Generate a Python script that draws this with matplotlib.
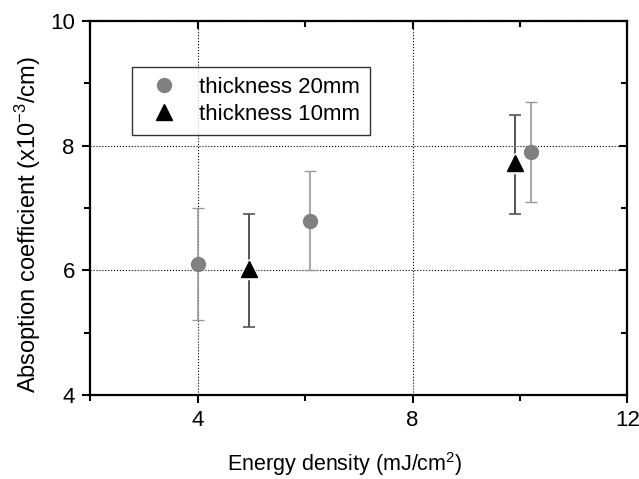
import numpy as np
import matplotlib.pyplot as plt
from matplotlib.ticker import MultipleLocator

plt.rcParams['font.family'] = ['Liberation Sans', 'DejaVu Sans']
plt.rcParams['mathtext.fontset'] = 'custom'
plt.rcParams['mathtext.rm'] = 'Liberation Sans'
plt.rcParams['mathtext.it'] = 'Liberation Sans'

# thickness 20mm (grey circles)
x20 = [4.0, 6.1, 10.2]
y20 = [6.1, 6.8, 7.9]
lo20 = [5.2, 6.0, 7.1]
hi20 = [7.0, 7.6, 8.7]

# thickness 10mm (black triangles)
x10 = [4.95, 9.9]
y10 = [6.02, 7.72]
lo10 = [5.1, 6.9]
hi10 = [6.9, 8.5]

fig = plt.figure(figsize=(6.39, 4.79), dpi=100)
ax = fig.add_axes([0.141, 0.175, 0.841, 0.781])

err20 = [np.array(y20) - np.array(lo20), np.array(hi20) - np.array(y20)]
err10 = [np.array(y10) - np.array(lo10), np.array(hi10) - np.array(y10)]

ax.errorbar(x20, y20, yerr=err20, fmt='none', ecolor='#999999', elinewidth=1.2,
            capsize=4, capthick=1.0, zorder=3)
ax.errorbar(x10, y10, yerr=err10, fmt='none', ecolor='#555555', elinewidth=1.4,
            capsize=4, capthick=1.2, zorder=3)

# white halo behind markers (gap in the error bar like the original)
ax.plot(x10, y10, '^', ms=15, color='white', ls='none', zorder=4)
ax.plot(x20, y20, 'o', ms=10, color='#808080', ls='none', zorder=5,
        label='thickness 20mm')
ax.plot(x10, y10, '^', ms=11, color='black', ls='none', zorder=5,
        label='thickness 10mm')

ax.set_xlim(2, 12)
ax.set_ylim(4, 10)
ax.xaxis.set_minor_locator(MultipleLocator(2))
ax.yaxis.set_major_locator(MultipleLocator(2))
ax.yaxis.set_minor_locator(MultipleLocator(1))
ax.set_xticks([4, 8, 12])

for s in ax.spines.values():
    s.set_linewidth(1.6)

ax.tick_params(which='both', direction='out', width=1.5, labelsize=16,
               top=True, right=True, pad=5)
ax.tick_params(which='major', length=6)
ax.tick_params(which='minor', length=4)
# top and right ticks point inward
for tl in ax.xaxis.get_majorticklines()[1::2] + ax.xaxis.get_minorticklines()[1::2]:
    tl.set_marker(3)
for tl in ax.yaxis.get_majorticklines()[1::2] + ax.yaxis.get_minorticklines()[1::2]:
    tl.set_marker(0)

ax.grid(True, which='major', color='black', linestyle=':', linewidth=0.8)

ax.set_xlabel('Energy density (mJ/cm$^2$)', fontsize=15.5)
ax.set_ylabel('Absoption coefficient (x10$^{-3}$/cm)', fontsize=17)
ax.xaxis.set_label_coords(0.474, -0.148)
ax.yaxis.set_label_coords(-0.088, 0.455)

leg = ax.legend(loc='upper left', bbox_to_anchor=(0.078, 0.877), fontsize=16,
                frameon=True, fancybox=False, edgecolor='black',
                borderaxespad=0, handletextpad=0.55, borderpad=0.45,
                labelspacing=0.25, handlelength=2.0)
leg.get_frame().set_linewidth(1.0)

plt.savefig('out.png', dpi=100)
